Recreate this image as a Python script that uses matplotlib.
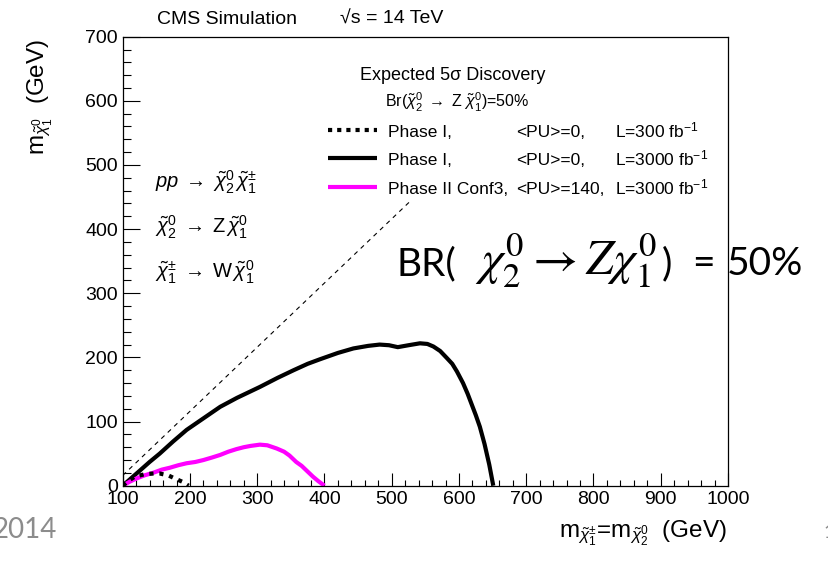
import numpy as np
import matplotlib.pyplot as plt
from matplotlib.lines import Line2D
from matplotlib.ticker import MultipleLocator

plt.rcParams['font.family'] = ['Liberation Sans', 'DejaVu Sans']
plt.rcParams['mathtext.fontset'] = 'custom'
plt.rcParams['mathtext.rm'] = 'Liberation Sans'
plt.rcParams['mathtext.it'] = 'Liberation Sans:italic'
plt.rcParams['mathtext.bf'] = 'Liberation Sans:bold'

W, H = 829, 561

# discovery contours, m(chargino)=m(neutralino2) vs m(LSP)
x_300 = [100, 109, 118, 133, 146, 155, 168, 178, 189, 198]
y_300 = [0, 8, 14, 18, 19, 19, 16, 11, 6, 0]

x_3000 = [100, 113, 126, 140, 155, 175, 195, 220, 245, 270, 304, 330, 354, 375,
          393, 420, 443, 465, 482, 496, 509, 525, 542, 553, 562, 572, 582, 590,
          597, 606, 613, 625, 631, 638, 645, 651]
y_3000 = [0, 12, 24, 37, 50, 69, 87, 105, 123, 137, 154, 168, 180, 190,
          197, 207, 214, 218, 220, 219, 216, 219, 222, 221, 217, 210, 199, 190,
          178, 160, 143, 110, 92, 65, 33, 0]

x_ph2 = [100, 110, 120, 132, 145, 158, 170, 183, 195, 208, 220, 233, 245, 257,
         269, 280, 290, 304, 315, 329, 340, 348, 358, 366, 374, 383, 391, 400]
y_ph2 = [0, 6, 11, 16, 20, 25, 28, 32, 35, 37, 40, 44, 48, 53,
         57, 60, 62, 64, 63, 58, 53, 47, 37, 31, 23, 14, 7, 0]

# kinematic limit line
x_kin = [100, 530]
y_kin = [16, 446]

legend_rows = [
    ("Phase I,", "<PU>=0,", "L=300 fb$^{-1}$"),
    ("Phase I,", "<PU>=0,", "L=3000 fb$^{-1}$"),
    ("Phase II Conf3,", "<PU>=140,", "L=3000 fb$^{-1}$"),
]


def px(x, y):
    return x / W, 1 - y / H


fig = plt.figure(figsize=(W / 100, H / 100), dpi=100)
ax = fig.add_axes([122.7 / W, 1 - 485.7 / H, (728 - 122.7) / W, (485.7 - 36.7) / H])

ax.plot(x_kin, y_kin, color='black', lw=0.8, linestyle=(0, (4, 4)))
ax.plot(x_3000, y_3000, color='black', lw=3, solid_capstyle='butt')
ax.plot(x_ph2, y_ph2, color='#ff00ff', lw=3, solid_capstyle='butt')
ax.plot(x_300, y_300, color='black', lw=3, linestyle=(0, (1, 1.4)), zorder=4)

ax.set_xlim(100, 1000)
ax.set_ylim(0, 700)
ax.xaxis.set_major_locator(MultipleLocator(100))
ax.xaxis.set_minor_locator(MultipleLocator(20))
ax.yaxis.set_major_locator(MultipleLocator(100))
ax.yaxis.set_minor_locator(MultipleLocator(20))
ax.tick_params(axis='both', which='both', direction='in', width=0.8, labelsize=14,
               top=False, right=False)
ax.tick_params(axis='x', which='major', length=9.5, pad=4)
ax.tick_params(axis='x', which='minor', length=4.5)
ax.tick_params(axis='y', which='major', length=12, pad=3.5)
ax.tick_params(axis='y', which='minor', length=6)
for s in ax.spines.values():
    s.set_linewidth(0.9)

# axis titles
fig.text(*px(727, 538), r'm$_{\tilde{\chi}^{\pm}_{1}}$=m$_{\tilde{\chi}^{0}_{2}}$  (GeV)',
         ha='right', va='baseline', fontsize=17.5)
fig.text(*px(40, 39), r'm$_{\tilde{\chi}^{0}_{1}}$  (GeV)', rotation=90,
         ha='center', va='top', fontsize=17.5)

# header
fig.text(*px(157, 24), 'CMS Simulation', fontsize=14, va='baseline')
fig.text(*px(340, 24), '√s = 14 TeV', fontsize=14, va='baseline')

# process description
fig.text(*px(155, 188), r'$pp \;\rightarrow\; \tilde{\chi}^{0}_{2}\,\tilde{\chi}^{\pm}_{1}$',
         fontsize=14.5, va='baseline')
fig.text(*px(155, 233), r'$\tilde{\chi}^{0}_{2} \;\rightarrow\; \mathrm{Z}\,\tilde{\chi}^{0}_{1}$',
         fontsize=14.5, va='baseline')
fig.text(*px(155, 278), r'$\tilde{\chi}^{\pm}_{1} \;\rightarrow\; \mathrm{W}\,\tilde{\chi}^{0}_{1}$',
         fontsize=14.5, va='baseline')

# legend block
fig.text(*px(360, 80), 'Expected 5σ Discovery', fontsize=13, va='baseline')
fig.text(*px(385, 108), r'Br($\tilde{\chi}^{0}_{2}\;\rightarrow$ Z $\tilde{\chi}^{0}_{1}$)=50%',
         fontsize=11.5, va='baseline')
styles = [dict(color='black', lw=3, linestyle=(0, (1, 1.2))),
          dict(color='black', lw=3, solid_capstyle='butt'),
          dict(color='#ff00ff', lw=3, solid_capstyle='butt')]
row_y = [130, 158, 187]
for (c1, c2, c3), st, yy in zip(legend_rows, styles, row_y):
    x0, y0 = px(328, yy)
    x1, _ = px(377, yy)
    fig.add_artist(Line2D([x0, x1], [y0, y0], transform=fig.transFigure, **st))
    fig.text(*px(388, yy + 7), c1, fontsize=12.5, va='baseline')
    fig.text(*px(516, yy + 7), c2, fontsize=12.5, va='baseline')
    fig.text(*px(615, yy + 7), c3, fontsize=12.5, va='baseline')

# slide annotations
fig.text(*px(397, 275), 'BR(', family='Lato', fontsize=28, va='baseline')
fig.text(*px(475, 275), r'$\chi_2^0 \rightarrow Z\chi_1^0$', math_fontfamily='stix',
         fontsize=35.5, va='baseline')
fig.text(*px(662, 275), ')', family='Lato', fontsize=28, va='baseline')
fig.text(*px(692, 275), '=', family='Lato', fontsize=28, va='baseline')
fig.text(*px(727, 275), '50%', family='Lato', fontsize=28, va='baseline')
fig.text(*px(57, 538), '2014', family='Lato', fontsize=20, color='#8c8c8c',
         ha='right', va='baseline')
fig.text(*px(823, 538), '1', family='Lato', fontsize=14, color='#8c8c8c',
         va='baseline')

fig.savefig('out.png', dpi=100)
